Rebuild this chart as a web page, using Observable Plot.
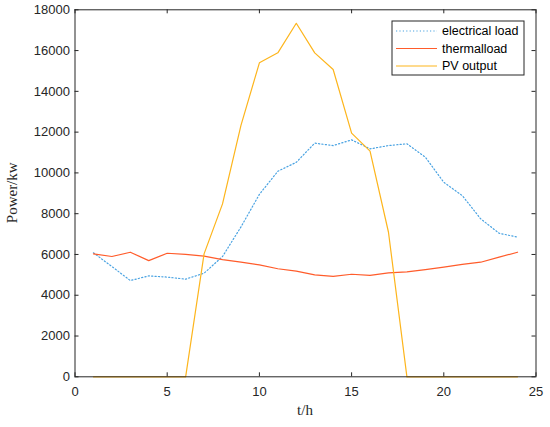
<!DOCTYPE html>
<html><head><meta charset="utf-8">
<script src="https://cdn.jsdelivr.net/npm/d3@7"></script>
<script src="https://cdn.jsdelivr.net/npm/@observablehq/plot@0.6"></script>
<style>body{margin:0;background:#fff} svg{display:block}</style>
</head><body><div id="chart"></div>
<script>
const hours = [1,2,3,4,5,6,7,8,9,10,11,12,13,14,15,16,17,18,19,20,21,22,23,24];
const electricalLoad = [6080,5410,4720,4950,4890,4790,5080,5900,7350,8950,10080,10520,11460,11340,11620,11180,11340,11430,10770,9540,8890,7750,7040,6850];
const thermalLoad = [6030,5900,6110,5700,6060,6000,5920,5750,5620,5490,5300,5180,5000,4930,5030,4970,5100,5150,5260,5380,5510,5620,5870,6110];
const pvOutput = [0,0,0,0,0,0,6030,8480,12330,15400,15890,17340,15890,15070,11950,11070,7090,0,0,0,0,0,0,0];
const xTicks = [0,5,10,15,20,25];
const yTicks = [0,2000,4000,6000,8000,10000,12000,14000,16000,18000];
const seriesNames = ["electrical load","thermalload","PV output"];
const seriesColors = ["#4aa3e2","#ff5c2b","#fdb51c"];
const seriesDash = ["1.2,2.2",null,null];
const seriesValues = [electricalLoad, thermalLoad, pvOutput];

const W=550,H=427,mL=74.5,mR=14.5,mT=9.3,mB=50.7;
const innerW=W-mL-mR, innerH=H-mT-mB, tickLen=4;
const axisColor="#262626";

const lineMarks = seriesValues.map((vals,s)=>Plot.line(hours,{
  x:d=>d, y:(d,i)=>vals[i], stroke:seriesColors[s], strokeWidth:1.2,
  strokeDasharray:seriesDash[s]||undefined
}));

const plot = Plot.plot({
  width:W, height:H, marginLeft:mL, marginRight:mR, marginTop:mT, marginBottom:mB,
  style:{fontFamily:"'Liberation Sans', Arial, sans-serif", fontSize:"13px", color:axisColor, background:"white"},
  x:{domain:[0,25]},
  y:{domain:[0,18000]},
  marks:[
    ...lineMarks,
    Plot.frame({stroke:axisColor, strokeWidth:1}),
    Plot.axisX(xTicks,{tickSize:0, tickPadding:10, tickFormat:d=>String(d), label:null}),
    Plot.axisY(yTicks,{tickSize:0, tickPadding:5, tickFormat:d=>String(d), label:null}),
    Plot.tickX(xTicks,{x:d=>d, insetTop:innerH-tickLen, stroke:axisColor}),
    Plot.tickX(xTicks,{x:d=>d, insetBottom:innerH-tickLen, stroke:axisColor}),
    Plot.tickY(yTicks,{y:d=>d, insetRight:innerW-tickLen, stroke:axisColor}),
    Plot.tickY(yTicks,{y:d=>d, insetLeft:innerW-tickLen, stroke:axisColor})
  ]
});

const svg = d3.select(plot);
svg.selectAll("g[aria-label='x-axis tick label'], g[aria-label='y-axis tick label']")
  .attr("font-size", 13).style("font-size","13px");

svg.append("text").attr("x", mL+innerW/2).attr("y", 415).attr("text-anchor","middle")
  .attr("font-family","'Liberation Serif','Times New Roman',serif").attr("font-size",15).attr("fill",axisColor).text("t/h");
svg.append("text").attr("transform",`translate(17,${mT+innerH/2}) rotate(-90)`).attr("text-anchor","middle")
  .attr("font-family","'Liberation Serif','Times New Roman',serif").attr("font-size",15).attr("fill",axisColor).text("Power/kw");

const lg = svg.append("g").attr("text-anchor","start");
const lx=392, ly=21, lw=132, lh=54;
lg.append("rect").attr("x",lx).attr("y",ly).attr("width",lw).attr("height",lh).attr("fill","white").attr("stroke",axisColor).attr("stroke-width",1);
seriesNames.forEach((name,i)=>{
  const yy = ly + 10 + i*17.5;
  lg.append("line").attr("x1",lx+4).attr("x2",lx+45).attr("y1",yy).attr("y2",yy)
    .attr("stroke",seriesColors[i]).attr("stroke-width",1.2).attr("stroke-dasharray",seriesDash[i]);
  lg.append("text").attr("x",lx+50).attr("y",yy).attr("dy","0.35em").attr("text-anchor","start")
    .attr("font-family","'Liberation Sans', Arial, sans-serif").attr("font-size",12.5).attr("fill","#000").text(name);
});

document.getElementById("chart").appendChild(plot);
</script></body></html>
